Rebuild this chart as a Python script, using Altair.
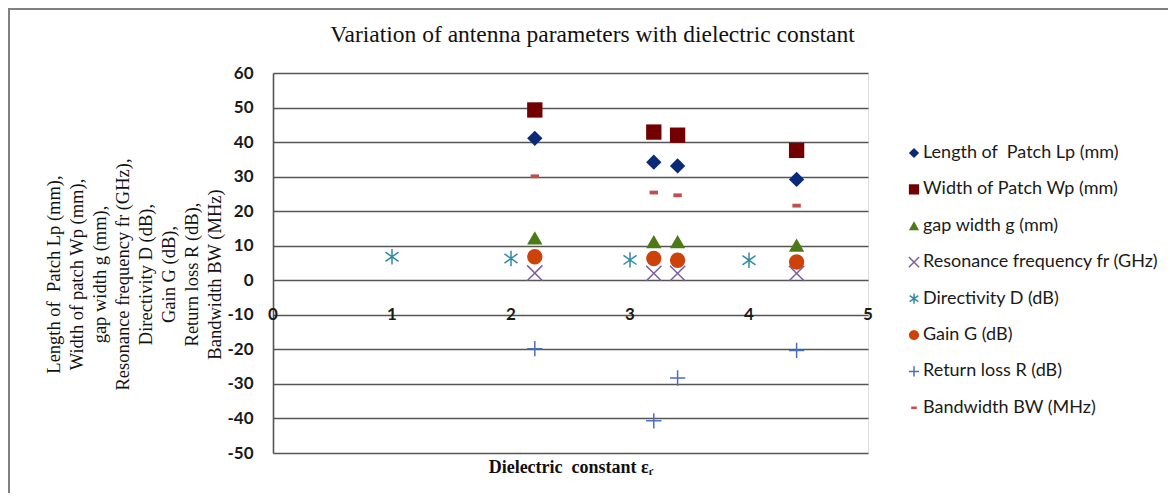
import altair as alt
import pandas as pd

# ---- data ----
eps_r = [2.2, 3.2, 3.4, 4.4]
directivity_x = [1, 2, 3, 4]

length_lp = [41.1, 34.2, 33.1, 29.2]
width_wp = [49.3, 42.9, 42.0, 37.6]
gap_g = [12.3, 11.2, 11.2, 10.2]
res_fr = [2.1, 2.0, 2.0, 2.0]
directivity = [6.8, 6.3, 5.9, 5.8]
gain = [6.8, 6.3, 5.8, 5.3]
return_loss = [-19.8, -40.7, -28.3, -20.3]
bandwidth = [30.1, 25.4, 24.6, 21.6]

series_names = [
    "Length of\u00a0 Patch Lp (mm)",
    "Width of Patch Wp (mm)",
    "gap width g (mm)",
    "Resonance frequency fr (GHz)",
    "Directivity D (dB)",
    "Gain G (dB)",
    "Return loss R (dB)",
    "Bandwidth BW (MHz)",
]
series_values = [length_lp, width_wp, gap_g, res_fr, directivity, gain, return_loss, bandwidth]
series_x = [eps_r, eps_r, eps_r, eps_r, directivity_x, eps_r, eps_r, eps_r]

x_ticks = [0, 1, 2, 3, 4, 5]
y_ticks = [-50, -40, -30, -20, -10, 0, 10, 20, 30, 40, 50, 60]

fills = ["#0a2a78", "#720000", "#4c7a16", "transparent", "transparent", "#cc4208", "transparent", "#c0504d"]
strokes = ["transparent", "transparent", "transparent", "#7d5e9e", "#2f8aa5", "transparent", "#4a70c0", "transparent"]
shapes = [
    "diamond",
    "square",
    "triangle-up",
    "M-1,-1L1,1M-1,1L1,-1",
    "M0,-1L0,1M-0.85,-0.6L0.85,0.6M-0.85,0.6L0.85,-0.6",
    "circle",
    "M0,-1L0,1M-1,0L1,0",
    "M-0.55,-0.25L0.55,-0.25L0.55,0.25L-0.55,0.25Z",
]

rows = []
for name, xs, vals in zip(series_names, series_x, series_values):
    for xv, yv in zip(xs, vals):
        rows.append({"series": name, "eps": xv, "value": yv})
df = pd.DataFrame(rows)

tick_df = pd.DataFrame({"eps": x_ticks, "value": [-10] * len(x_ticks), "label": [str(t) for t in x_ticks]})

xscale = alt.Scale(domain=[0, 5], nice=False, zero=False)
yscale = alt.Scale(domain=[-50, 60], nice=False)

legend = alt.Legend(
    title=None,
    orient="none",
    legendX=632,
    legendY=71,
    padding=0,
    rowPadding=18.4,
    labelFont="Lato",
    labelFontSize=18,
    labelColor="#1a1a1a",
    labelOffset=0,
    symbolSize=105,
    symbolStrokeWidth=1.5,
    labelLimit=400,
)

points = alt.Chart(df).mark_point(size=235, strokeWidth=1.5, opacity=1).encode(
    x=alt.X(
        "eps:Q",
        scale=xscale,
        axis=alt.Axis(
            title="Dielectric\u00a0 constant εᵣ",
            titleFont="Liberation Serif",
            titleFontSize=18,
            titleFontWeight="bold",
            titleColor="#111",
            titlePadding=5,
            labels=False,
            ticks=False,
            domain=False,
            grid=False,
        ),
    ),
    y=alt.Y(
        "value:Q",
        scale=yscale,
        axis=alt.Axis(
            values=y_ticks,
            tickCount=len(y_ticks),
            labelExpr="'' + datum.value",
            labelOverlap=False,
            title=[
                "Length of\u00a0 Patch Lp (mm),",
                "Width of patch Wp (mm),",
                "gap width g (mm),",
                "Resonance frequency fr (GHz),",
                "Directivity D (dB),",
                "Gain G (dB),",
                "Return loss R (dB),",
                "Bandwidth BW (MHz)",
            ],
            titleFont="Liberation Serif",
            titleFontSize=18.5,
            titleFontWeight="normal",
            titleColor="#111",
            titleLineHeight=23,
            titlePadding=2,
            titleY=201,
            labelFont="Lato",
            labelFontSize=17,
            labelFontWeight="bold",
            labelColor="#1a1a1a",
            labelPadding=20,
            ticks=False,
            tickSize=0,
            domainColor="#555555",
            domainWidth=1.6,
            gridColor="#555555",
            gridWidth=1.6,
        ),
    ),
    fill=alt.Fill("series:N", scale=alt.Scale(domain=series_names, range=fills), legend=legend),
    stroke=alt.Stroke("series:N", scale=alt.Scale(domain=series_names, range=strokes), legend=legend),
    shape=alt.Shape("series:N", scale=alt.Scale(domain=series_names, range=shapes), legend=legend),
)

xlabels = alt.Chart(tick_df).mark_text(
    font="Lato", fontSize=17, fontWeight="bold", color="#1a1a1a", align="center", baseline="middle"
).encode(
    x=alt.X("eps:Q", scale=xscale),
    y=alt.Y("value:Q", scale=yscale),
    text="label:N",
)

frame = alt.Chart(pd.DataFrame({"k": [0]})).mark_rect(
    fillOpacity=0, stroke="#7f7f7f", strokeWidth=2, clip=False
).encode(
    x=alt.value(-264), x2=alt.value(1000), y=alt.value(-64), y2=alt.value(600)
)

chart = alt.layer(frame, points, xlabels).properties(
    width=595,
    height=380,
    padding={"left": 265, "top": 65, "right": 300, "bottom": 40},
    autosize=alt.AutoSizeParams(type="none"),
    title=alt.TitleParams(
        "Variation of antenna parameters with dielectric constant",
        font="Liberation Serif",
        fontSize=23.5,
        fontWeight="normal",
        color="#111",
        anchor="middle",
        dx=22,
        offset=-38,
    ),
).configure_view(stroke=None).configure(background="white")

chart.save("out.html", embed_options={"renderer": "svg", "actions": False})
